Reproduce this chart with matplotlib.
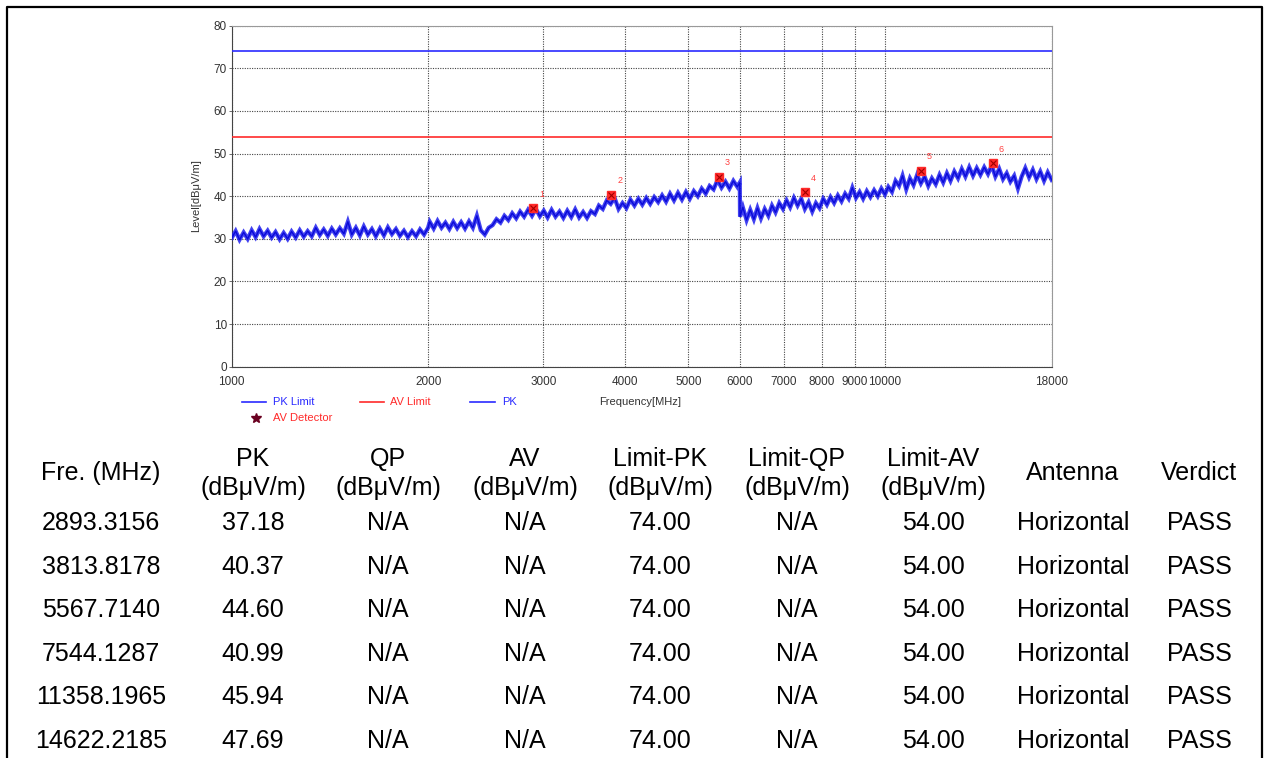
import matplotlib
matplotlib.use("Agg")
import matplotlib.pyplot as plt
from matplotlib.lines import Line2D
import numpy as np

plt.rcParams['font.family'] = ['Liberation Sans', 'DejaVu Sans']

# sweep trace (PK)
trace_freq = [
    # 1000 - 2000
    1000, 1014, 1028, 1043, 1058, 1073, 1088, 1103, 1119, 1135,
    1151, 1167, 1184, 1201, 1218, 1235, 1253, 1271, 1289, 1307,
    1326, 1345, 1364, 1383, 1403, 1423, 1443, 1464, 1485, 1506,
    1527, 1549, 1571, 1593, 1616, 1639, 1662, 1686, 1710, 1734,
    1759, 1784, 1809, 1835, 1861, 1888, 1915, 1942, 1970, 1998,
    # 2000 - 3000
    2010, 2038, 2066, 2095, 2124, 2154, 2184, 2214, 2245, 2276,
    2308, 2340, 2373, 2406, 2440, 2474, 2508, 2543, 2579, 2615,
    2651, 2688, 2726, 2764, 2803, 2842, 2882, 2922, 2963, 3004,
    # 3000 - 4000
    3045, 3088, 3131, 3175, 3219, 3264, 3310, 3356, 3403, 3451,
    3499, 3548, 3598, 3648, 3699, 3751, 3803, 3856, 3910, 3965, 4020,
    # 4000 - 6000
    4077, 4135, 4193, 4252, 4312, 4372, 4434, 4496, 4559, 4623,
    4688, 4754, 4821, 4889, 4958, 5027, 5098, 5170, 5242, 5316,
    5390, 5466, 5543, 5621, 5700, 5780, 5861, 5943, 5995,
    # 6000 - 10000
    6000, 6060, 6140, 6220, 6300, 6380, 6460, 6545, 6630, 6715,
    6800, 6890, 6980, 7070, 7160, 7255, 7350, 7445, 7540, 7640,
    7740, 7840, 7940, 8045, 8150, 8255, 8360, 8470, 8580, 8690,
    8800, 8915, 9030, 9145, 9260, 9380, 9500, 9625, 9750, 9875, 10000,
    # 10000 - 18000
    10120, 10250, 10380, 10510, 10640, 10780, 10920, 11060, 11200, 11350,
    11500, 11650, 11800, 11960, 12120, 12280, 12440, 12600, 12770, 12940,
    13110, 13280, 13460, 13640, 13820, 14000, 14190, 14380, 14570, 14760,
    14960, 15160, 15360, 15560, 15770, 15980, 16190, 16400, 16620, 16840,
    17060, 17290, 17520, 17750, 18000,
]
trace_level = [
    30.2, 31.8, 29.8, 31.5, 30.0, 32.0, 30.4, 32.3, 30.6, 31.9,
    30.3, 31.6, 29.9, 31.4, 30.0, 31.7, 30.3, 32.0, 30.5, 31.8,
    30.6, 32.6, 30.9, 32.2, 30.7, 32.4, 31.0, 32.5, 31.2, 34.0,
    31.0, 32.6, 30.8, 32.9, 31.0, 32.3, 30.6, 32.4, 30.8, 32.7,
    31.1, 32.3, 30.7, 31.9, 30.4, 31.8, 30.6, 32.2, 31.0, 32.6,
    34.0, 32.4, 34.2, 32.6, 33.8, 32.3, 34.0, 32.5, 33.9, 32.4,
    34.1, 32.6, 35.4, 32.0, 31.0, 32.6, 33.2, 34.6, 33.8, 35.4,
    34.4, 36.0, 34.8, 36.4, 35.2, 36.8, 35.4, 37.0, 35.3, 36.6,
    35.0, 36.8, 35.2, 36.4, 34.9, 36.6, 35.1, 36.9, 35.0, 36.3,
    34.9, 36.5, 35.8, 37.8, 37.0, 39.0, 38.2, 39.6, 37.0, 38.4, 37.2,
    39.2, 37.8, 39.4, 38.0, 39.6, 38.2, 39.8, 38.6, 40.2, 38.7,
    40.6, 39.0, 40.8, 39.2, 41.0, 39.4, 41.2, 40.0, 41.8, 40.6,
    42.4, 41.6, 43.8, 42.0, 43.4, 41.8, 43.6, 42.2, 43.2,
    35.2, 37.4, 34.4, 36.8, 34.6, 37.2, 34.8, 37.0, 35.4, 37.8,
    36.2, 38.4, 37.0, 39.0, 37.4, 39.6, 37.8, 39.4, 37.0, 38.6,
    36.4, 38.4, 37.2, 39.4, 38.0, 39.8, 38.4, 40.2, 38.8, 40.6,
    39.4, 42.0, 39.6, 41.0, 39.4, 41.2, 39.8, 41.4, 40.0, 41.8, 40.4,
    42.2, 41.0, 43.6, 42.4, 44.8, 41.6, 44.2, 42.6, 45.0, 43.0,
    44.6, 42.4, 44.2, 42.8, 45.0, 43.2, 45.4, 43.6, 45.8, 44.2,
    46.4, 44.6, 46.8, 44.8, 46.6, 45.0, 46.8, 45.2, 47.2, 44.6,
    46.4, 44.0, 45.4, 43.4, 44.8, 41.8, 44.6, 46.6, 44.4, 46.2,
    44.0, 45.8, 43.6, 45.6, 43.8,
]

# final measurement points
marker_freq = [2893.3156, 3813.8178, 5567.7140, 7544.1287, 11358.1965, 14622.2185]
marker_pk = [37.18, 40.37, 44.60, 40.99, 45.94, 47.69]
pk_limit = 74.00
av_limit = 54.00
antenna = ["Horizontal"] * 6
verdict = ["PASS"] * 6

x_ticks = [1000, 2000, 3000, 4000, 5000, 6000, 7000, 8000, 9000, 10000, 18000]
y_ticks = [0, 10, 20, 30, 40, 50, 60, 70, 80]

W, H = 1267, 758


def fx(x):
    return x / W


def fy(y):
    return 1 - y / H


fig = plt.figure(figsize=(W / 100, H / 100), dpi=100)
ax = fig.add_axes([fx(231.7), fy(366.7), 820 / W, 341 / H])

ax.set_xscale("log")
ax.set_xlim(1000, 18000)
ax.set_ylim(0, 80)

ax.axhline(pk_limit, color="#2a2aff", lw=1.2, zorder=3)
ax.axhline(av_limit, color="#ff2a2a", lw=1.2, zorder=3)
# thick pass gives the noisy band, thin pass on top keeps the spikes
ax.plot(trace_freq, trace_level, color="#2020ee", lw=3.0, alpha=0.85,
        solid_joinstyle="miter", zorder=4)
ax.plot(trace_freq, trace_level, color="#0a0ad8", lw=1.0, zorder=4)

ax.plot(marker_freq, marker_pk, "s", ms=6, mfc="#ff2a2a", mec="#ff2a2a", zorder=5)
ax.plot(marker_freq, marker_pk, "x", ms=4, mew=0.8, color="#a00000", zorder=6)
for i, (f, v) in enumerate(zip(marker_freq, marker_pk)):
    ax.annotate(str(i + 1), (f, v), xytext=(6, 10), textcoords="offset points",
                color="#ff4040", fontsize=6.5, ha="center", va="center")

ax.set_xticks(x_ticks)
ax.set_xticklabels([str(t) for t in x_ticks])
ax.xaxis.set_minor_locator(matplotlib.ticker.NullLocator())
ax.set_yticks(y_ticks)
ax.tick_params(axis="x", length=0, pad=7, labelsize=8.5, labelcolor="#333333")
ax.tick_params(axis="y", length=2.5, width=0.6, pad=1, labelsize=8.5,
               labelcolor="#333333", color="#555555")
ax.grid(True, which="major", linestyle=(0, (1, 1.2)), color="#444444", lw=0.8)
for s in ["left", "bottom"]:
    ax.spines[s].set_color("#444444")
for s in ["top", "right"]:
    ax.spines[s].set_color("#999999")

fig.text(fx(196), fy(196), "Level[dBμV/m]", rotation=90, ha="center", va="center",
         fontsize=8, color="#333333")
fig.text(fx(640), fy(401.7), "Frequency[MHz]", ha="center", va="center",
         fontsize=8, color="#333333")

# legend under the plot
legend_items = [
    ("PK Limit", "#2a2aff", 242, 266, 273, 401.7),
    ("AV Limit", "#ff2a2a", 360, 384, 390, 401.7),
    ("PK", "#2a2aff", 470, 495, 502, 401.7),
]
for label, c, x0, x1, xt, y in legend_items:
    fig.add_artist(Line2D([fx(x0), fx(x1)], [fy(y), fy(y)], color=c, lw=1.2))
    fig.text(fx(xt), fy(y), label, color=c, fontsize=8, ha="left", va="center")
fig.add_artist(Line2D([fx(256)], [fy(418)], marker="*", ms=7, color="#6a0020", lw=0))
fig.text(fx(273), fy(418), "AV Detector", color="#ff2a2a", fontsize=8, ha="left", va="center")

# outer frame (left, top, right)
fig.add_artist(Line2D([fx(7), fx(7), fx(1262), fx(1262)], [0, fy(7), fy(7), 0],
                      color="black", lw=1.6))

# result table
col_x = [101, 253, 388, 525, 660, 797, 933, 1073, 1199]
headers = [("Fre. (MHz)", None), ("PK", "(dBμV/m)"), ("QP", "(dBμV/m)"),
           ("AV", "(dBμV/m)"), ("Limit-PK", "(dBμV/m)"), ("Limit-QP", "(dBμV/m)"),
           ("Limit-AV", "(dBμV/m)"), ("Antenna", None), ("Verdict", None)]
fs = 18
for x, (h1, h2) in zip(col_x, headers):
    if h2 is None:
        fig.text(fx(x), fy(473), h1, ha="center", va="center", fontsize=fs)
    else:
        fig.text(fx(x), fy(459), h1, ha="center", va="center", fontsize=fs)
        fig.text(fx(x), fy(488), h2, ha="center", va="center", fontsize=fs)

row_y = [523, 566.5, 610, 654, 697.5, 741]
for i, y in enumerate(row_y):
    cells = [f"{marker_freq[i]:.4f}", f"{marker_pk[i]:.2f}", "N/A", "N/A",
             f"{pk_limit:.2f}", "N/A", f"{av_limit:.2f}", antenna[i], verdict[i]]
    for x, txt in zip(col_x, cells):
        fig.text(fx(x), fy(y), txt, ha="center", va="center", fontsize=fs)

fig.savefig("out.png", dpi=100)
